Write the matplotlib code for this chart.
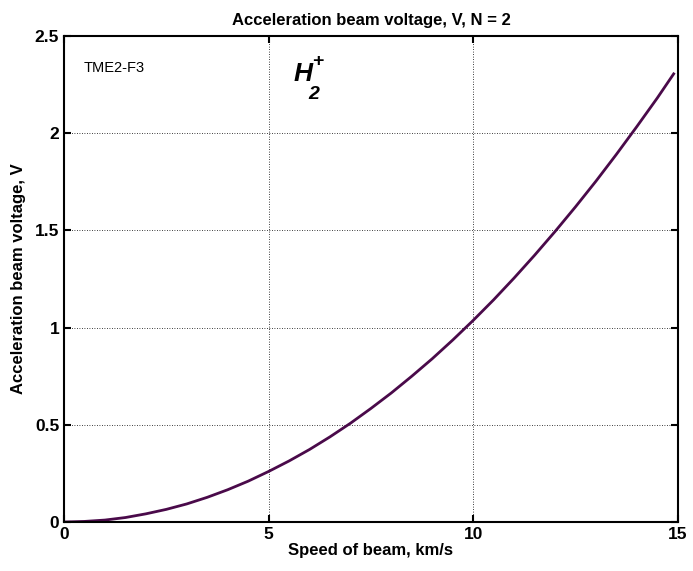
import matplotlib

matplotlib.use("Agg")
import matplotlib.pyplot as plt

# values
speed = [0, 0.5, 1, 1.5, 2, 2.5, 3, 3.5, 4, 4.5, 5, 5.5, 6, 6.5, 7, 7.5,
         8, 8.5, 9, 9.5, 10, 10.5, 11, 11.5, 12, 12.5, 13, 13.5, 14, 14.5, 14.9]
voltage = [0, 0.003, 0.01, 0.023, 0.042, 0.065, 0.093, 0.127, 0.166, 0.21, 0.26,
           0.314, 0.373, 0.438, 0.508, 0.584, 0.664, 0.75, 0.84, 0.936, 1.037,
           1.143, 1.255, 1.372, 1.494, 1.621, 1.753, 1.891, 2.034, 2.181, 2.305]
x_ticks = [0, 5, 10, 15]
y_ticks = [0, 0.5, 1, 1.5, 2, 2.5]
y_labels = ["0", "0.5", "1", "1.5", "2", "2.5"]

plt.rcParams["font.family"] = ["Liberation Sans", "DejaVu Sans"]

fig = plt.figure(figsize=(6.93, 5.71), dpi=100)
ax = fig.add_axes([0.0924, 0.0858, 0.8856, 0.8512])

ax.plot(speed, voltage, color="#4a0a4a", linewidth=2)

ax.set_xlim(0, 15)
ax.set_ylim(0, 2.5)
ax.set_xticks(x_ticks)
ax.set_yticks(y_ticks)
ax.set_yticklabels(y_labels)
ax.grid(True, linestyle=(0, (1, 2)), color="black", linewidth=0.6)
ax.tick_params(direction="in", length=5, width=1.5, labelsize=12.5, top=True, right=True)
for lbl in ax.get_xticklabels() + ax.get_yticklabels():
    lbl.set_fontweight("bold")
for spine in ax.spines.values():
    spine.set_linewidth(1.5)

ax.set_title("Acceleration beam voltage, V, N = 2", fontsize=12, fontweight="bold", pad=8)
ax.set_xlabel("Speed of beam, km/s", fontsize=12, fontweight="bold", labelpad=1)
ax.set_ylabel("Acceleration beam voltage, V", fontsize=12, fontweight="bold", labelpad=6)

ax.text(0.48, 2.335, "TME2-F3", fontsize=10.5, ha="left", va="center")
ax.text(5.6, 2.305, "H", fontsize=19, fontstyle="italic", fontweight="bold", ha="left", va="center")
ax.text(6.06, 2.37, "+", fontsize=14, fontweight="bold", ha="left", va="center")
ax.text(5.98, 2.2, "2", fontsize=14, fontweight="bold", fontstyle="italic", ha="left", va="center")

fig.savefig("out.png", dpi=100)
